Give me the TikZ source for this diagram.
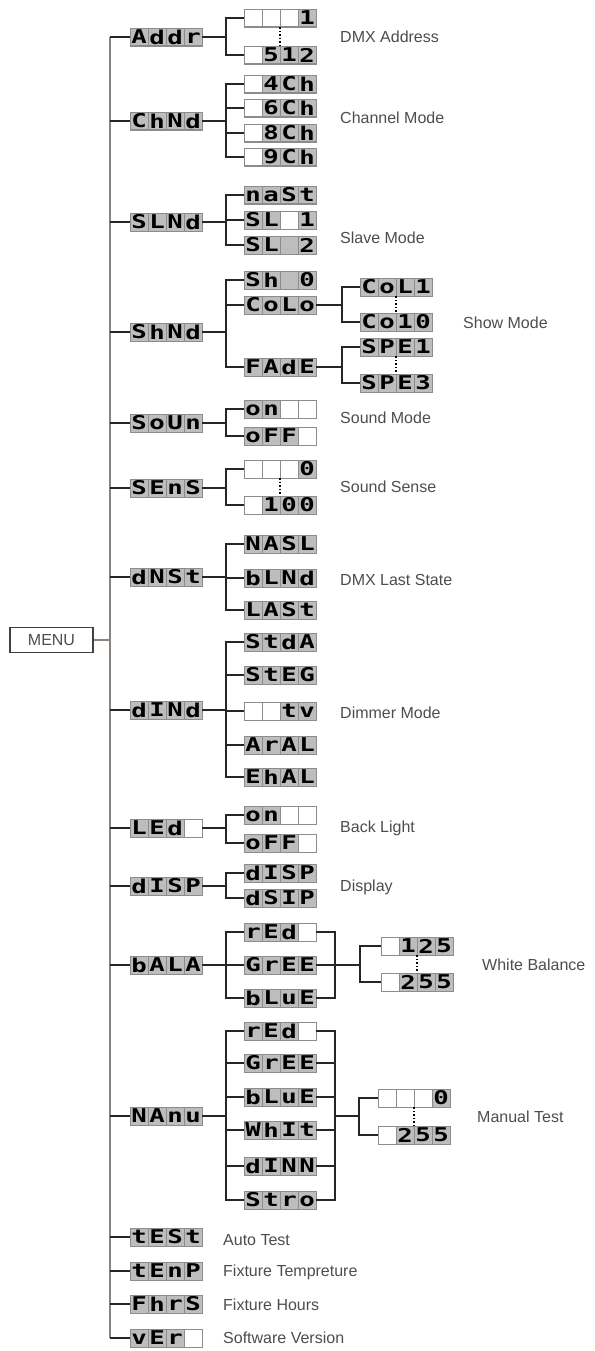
\documentclass[tikz,border=0pt]{standalone}
\usepackage{fontspec}
\setmainfont{Liberation Sans}
\newfontfamily\segfont[FakeStretch=1.35]{DejaVu Sans Mono}
\definecolor{cellgray}{HTML}{BDBDBD}
\definecolor{cellline}{HTML}{8C8C8C}
\definecolor{trunkgray}{HTML}{8A837E}
\definecolor{labelgray}{HTML}{4D4D4D}
\newlength\cellw \setlength\cellw{17pt}
\newlength\cellh \setlength\cellh{17pt}
\def\dgap{-}
\newcommand\dbox[2]{{\setlength\fboxsep{0pt}\setlength\fboxrule{0.5pt}%
\fcolorbox{cellline}{#1}{\vbox to\cellh{\vss\hbox to\cellw{\hss
\segfont\bfseries\fontsize{19pt}{19pt}\selectfont\vphantom{A}#2\hss}\vss}}}}
\newcommand\dcell[1]{\def\dtmp{#1}%
\ifx\dtmp\empty\dbox{white}{}\else\ifx\dtmp\dgap\dbox{cellgray}{}\else\dbox{cellgray}{#1}\fi\fi}
\newcommand\dword[4]{\dcell{#1}\dcell{#2}\dcell{#3}\dcell{#4}}
\tikzset{
  disp/.style={inner sep=0pt, outer sep=0pt, draw=cellline, line width=0.5pt},
  wire/.style={line width=1.1pt, black!85},
  trunk/.style={line width=2pt, trunkgray},
  dots/.style={dotted, line width=1.6pt},
  lbl/.style={anchor=west, inner sep=0pt, text=labelgray, font=\fontsize{16pt}{16pt}\selectfont},
  menubox/.style={draw=black!75, line width=1.2pt, minimum width=83pt, minimum height=25pt,
    inner sep=0pt, text=labelgray, font=\fontsize{16pt}{16pt}\selectfont}
}
\begin{document}
\begin{tikzpicture}[x=1pt,y=-1pt]
\useasboundingbox (0,0) rectangle (594,1351);
\coordinate (trunk) at (110,0);
\coordinate (fa) at (226,0);
\coordinate (fb) at (342,0);
\coordinate (rb) at (335,0);
\coordinate (fw) at (360,0);
\coordinate (fm) at (359,0);

\node[menubox] (menu) at (51.5,640) {MENU};

\node[disp] (addr) at (166,37) {\dword{A}{d}{d}{r}};
\node[disp] (chnd) at (166,121) {\dword{C}{h}{N}{d}};
\node[disp] (slnd) at (166,222) {\dword{S}{L}{N}{d}};
\node[disp] (shnd) at (166,332) {\dword{S}{h}{N}{d}};
\node[disp] (soun) at (166,423) {\dword{S}{o}{U}{n}};
\node[disp] (sens) at (166,488) {\dword{S}{E}{n}{S}};
\node[disp] (dnst) at (166,577) {\dword{d}{N}{S}{t}};
\node[disp] (dind) at (166,710) {\dword{d}{I}{N}{d}};
\node[disp] (led) at (166,828) {\dword{L}{E}{d}{}};
\node[disp] (dsp) at (166,886) {\dword{d}{I}{S}{P}};
\node[disp] (bala) at (166,965) {\dword{b}{A}{L}{A}};
\node[disp] (manu) at (166,1116) {\dword{N}{A}{n}{u}};
\node[disp] (test) at (166,1237) {\dword{t}{E}{S}{t}};
\node[disp] (temp) at (166,1271) {\dword{t}{E}{n}{P}};
\node[disp] (fhrs) at (166,1304) {\dword{F}{h}{r}{S}};
\node[disp] (ver) at (166,1338) {\dword{v}{E}{r}{}};

\node[disp] (a1) at (280,18) {\dword{}{}{}{1}};
\node[disp] (a2) at (280,55) {\dword{}{5}{1}{2}};
\node[disp] (c4) at (280,84) {\dword{}{4}{C}{h}};
\node[disp] (c6) at (280,108) {\dword{}{6}{C}{h}};
\node[disp] (c8) at (280,133) {\dword{}{8}{C}{h}};
\node[disp] (c9) at (280,157) {\dword{}{9}{C}{h}};
\node[disp] (sma) at (280,195) {\dword{n}{a}{S}{t}};
\node[disp] (sl1) at (280,220) {\dword{S}{L}{}{1}};
\node[disp] (sl2) at (280,245) {\dword{S}{L}{-}{2}};
\node[disp] (sh0) at (280,280) {\dword{S}{h}{-}{0}};
\node[disp] (colo) at (280,305) {\dword{C}{o}{L}{o}};
\node[disp] (fade) at (280,367) {\dword{F}{A}{d}{E}};
\node[disp] (col1) at (396,287) {\dword{C}{o}{L}{1}};
\node[disp] (col10) at (396,322) {\dword{C}{o}{1}{0}};
\node[disp] (spe1) at (396,347) {\dword{S}{P}{E}{1}};
\node[disp] (spe3) at (396,383) {\dword{S}{P}{E}{3}};
\node[disp] (son) at (280,409) {\dword{o}{n}{}{}};
\node[disp] (soff) at (280,436) {\dword{o}{F}{F}{}};
\node[disp] (s0) at (280,469) {\dword{}{}{}{0}};
\node[disp] (s100) at (280,505) {\dword{}{1}{0}{0}};
\node[disp] (nasl) at (280,544) {\dword{N}{A}{S}{L}};
\node[disp] (blnd) at (280,578) {\dword{b}{L}{N}{d}};
\node[disp] (last) at (280,610) {\dword{L}{A}{S}{t}};
\node[disp] (stda) at (280,642) {\dword{S}{t}{d}{A}};
\node[disp] (steg) at (280,675) {\dword{S}{t}{E}{G}};
\node[disp] (tv) at (280,711) {\dword{}{}{t}{v}};
\node[disp] (aral) at (280,745) {\dword{A}{r}{A}{L}};
\node[disp] (ehal) at (280,777) {\dword{E}{h}{A}{L}};
\node[disp] (lon) at (280,815) {\dword{o}{n}{}{}};
\node[disp] (loff) at (280,843) {\dword{o}{F}{F}{}};
\node[disp] (d1) at (280,873) {\dword{d}{I}{S}{P}};
\node[disp] (d2) at (280,898) {\dword{d}{S}{I}{P}};
\node[disp] (wr) at (280,932) {\dword{r}{E}{d}{}};
\node[disp] (wg) at (280,965) {\dword{G}{r}{E}{E}};
\node[disp] (wbl) at (280,998) {\dword{b}{L}{u}{E}};
\node[disp] (w125) at (417,946) {\dword{}{1}{2}{5}};
\node[disp] (w255) at (417,982) {\dword{}{2}{5}{5}};
\node[disp] (mr) at (280,1031) {\dword{r}{E}{d}{}};
\node[disp] (mg) at (280,1063) {\dword{G}{r}{E}{E}};
\node[disp] (mb) at (280,1097) {\dword{b}{L}{u}{E}};
\node[disp] (mw) at (280,1130) {\dword{W}{h}{I}{t}};
\node[disp] (md) at (280,1166) {\dword{d}{I}{N}{N}};
\node[disp] (ms) at (280,1200) {\dword{S}{t}{r}{o}};
\node[disp] (m0) at (414,1098) {\dword{}{}{}{0}};
\node[disp] (m255) at (414,1135) {\dword{}{2}{5}{5}};

\draw[trunk] (addr.west -| trunk) -- (ver.west -| trunk);
\draw[trunk] (menu.east) -- (menu.east -| trunk);
\draw[wire] (addr.west) -- (addr.west -| trunk) (chnd.west) -- (chnd.west -| trunk)
  (slnd.west) -- (slnd.west -| trunk) (shnd.west) -- (shnd.west -| trunk)
  (soun.west) -- (soun.west -| trunk) (sens.west) -- (sens.west -| trunk)
  (dnst.west) -- (dnst.west -| trunk) (dind.west) -- (dind.west -| trunk)
  (led.west) -- (led.west -| trunk) (dsp.west) -- (dsp.west -| trunk)
  (bala.west) -- (bala.west -| trunk) (manu.west) -- (manu.west -| trunk)
  (test.west) -- (test.west -| trunk) (temp.west) -- (temp.west -| trunk)
  (fhrs.west) -- (fhrs.west -| trunk) (ver.west) -- (ver.west -| trunk);

\draw[wire] (addr.east) -- (addr.east -| fa) (a1.west) -| (a2.west -| fa) -- (a2.west);
\draw[wire] (chnd.east) -- (chnd.east -| fa) (c4.west) -| (c9.west -| fa) -- (c9.west)
  (c6.west) -- (c6.west -| fa) (c8.west) -- (c8.west -| fa);
\draw[wire] (slnd.east) -- (slnd.east -| fa) (sma.west) -| (sl2.west -| fa) -- (sl2.west)
  (sl1.west) -- (sl1.west -| fa);
\draw[wire] (shnd.east) -- (shnd.east -| fa) (sh0.west) -| (fade.west -| fa) -- (fade.west)
  (colo.west) -- (colo.west -| fa);
\draw[wire] (colo.east) -- (colo.east -| fb) (col1.west) -| (col10.west -| fb) -- (col10.west);
\draw[wire] (fade.east) -- (fade.east -| fb) (spe1.west) -| (spe3.west -| fb) -- (spe3.west);
\draw[wire] (soun.east) -- (soun.east -| fa) (son.west) -| (soff.west -| fa) -- (soff.west);
\draw[wire] (sens.east) -- (sens.east -| fa) (s0.west) -| (s100.west -| fa) -- (s100.west);
\draw[wire] (dnst.east) -- (dnst.east -| fa) (nasl.west) -| (last.west -| fa) -- (last.west)
  (blnd.west) -- (blnd.west -| fa);
\draw[wire] (dind.east) -- (dind.east -| fa) (stda.west) -| (ehal.west -| fa) -- (ehal.west)
  (steg.west) -- (steg.west -| fa) (tv.west) -- (tv.west -| fa) (aral.west) -- (aral.west -| fa);
\draw[wire] (led.east) -- (led.east -| fa) (lon.west) -| (loff.west -| fa) -- (loff.west);
\draw[wire] (dsp.east) -- (dsp.east -| fa) (d1.west) -| (d2.west -| fa) -- (d2.west);
\draw[wire] (bala.east) -- (bala.east -| fa) (wr.west) -| (wbl.west -| fa) -- (wbl.west)
  (wg.west) -- (wg.west -| fa);
\draw[wire] (wr.east) -| (wbl.east -| rb) -- (wbl.east) (wg.east) -- (wg.east -| fw)
  (w125.west) -| (w255.west -| fw) -- (w255.west);
\draw[wire] (manu.east) -- (manu.east -| fa) (mr.west) -| (ms.west -| fa) -- (ms.west)
  (mg.west) -- (mg.west -| fa) (mb.west) -- (mb.west -| fa)
  (mw.west) -- (mw.west -| fa) (md.west) -- (md.west -| fa);
\draw[wire] (mr.east) -| (ms.east -| rb) -- (ms.east)
  (mg.east) -- (mg.east -| rb) (mb.east) -- (mb.east -| rb)
  (mw.east) -- (mw.east -| rb) (md.east) -- (md.east -| rb)
  (manu.east -| rb) -- (manu.east -| fm) (m0.west) -| (m255.west -| fm) -- (m255.west);

\draw[dots] (a1.south) -- (a2.north);
\draw[dots] (s0.south) -- (s100.north);
\draw[dots] (col1.south) -- (col10.north);
\draw[dots] (spe1.south) -- (spe3.north);
\draw[dots] (w125.south) -- (w255.north);
\draw[dots] (m0.south) -- (m255.north);

\node[lbl] (t-addr) at (340,37) {DMX Address};
\node[lbl] (t-chnd) at (340,118) {Channel Mode};
\node[lbl] (t-slnd) at (340,238) {Slave Mode};
\node[lbl] (t-shnd) at (463,323) {Show Mode};
\node[lbl] (t-soun) at (340,418) {Sound Mode};
\node[lbl] (t-sens) at (340,487) {Sound Sense};
\node[lbl] (t-dnst) at (340,580) {DMX Last State};
\node[lbl] (t-dind) at (340,713) {Dimmer Mode};
\node[lbl] (t-led) at (340,828) {Back Light};
\node[lbl] (t-dsp) at (340,887) {Display};
\node[lbl] (t-bala) at (482,965) {White Balance};
\node[lbl] (t-manu) at (477,1117) {Manual Test};
\node[lbl] (t-test) at (223,1240) {Auto Test};
\node[lbl] (t-temp) at (223,1272) {Fixture Tempreture};
\node[lbl] (t-fhrs) at (223,1305) {Fixture Hours};
\node[lbl] (t-ver) at (223,1338) {Software Version};
\end{tikzpicture}
\end{document}
